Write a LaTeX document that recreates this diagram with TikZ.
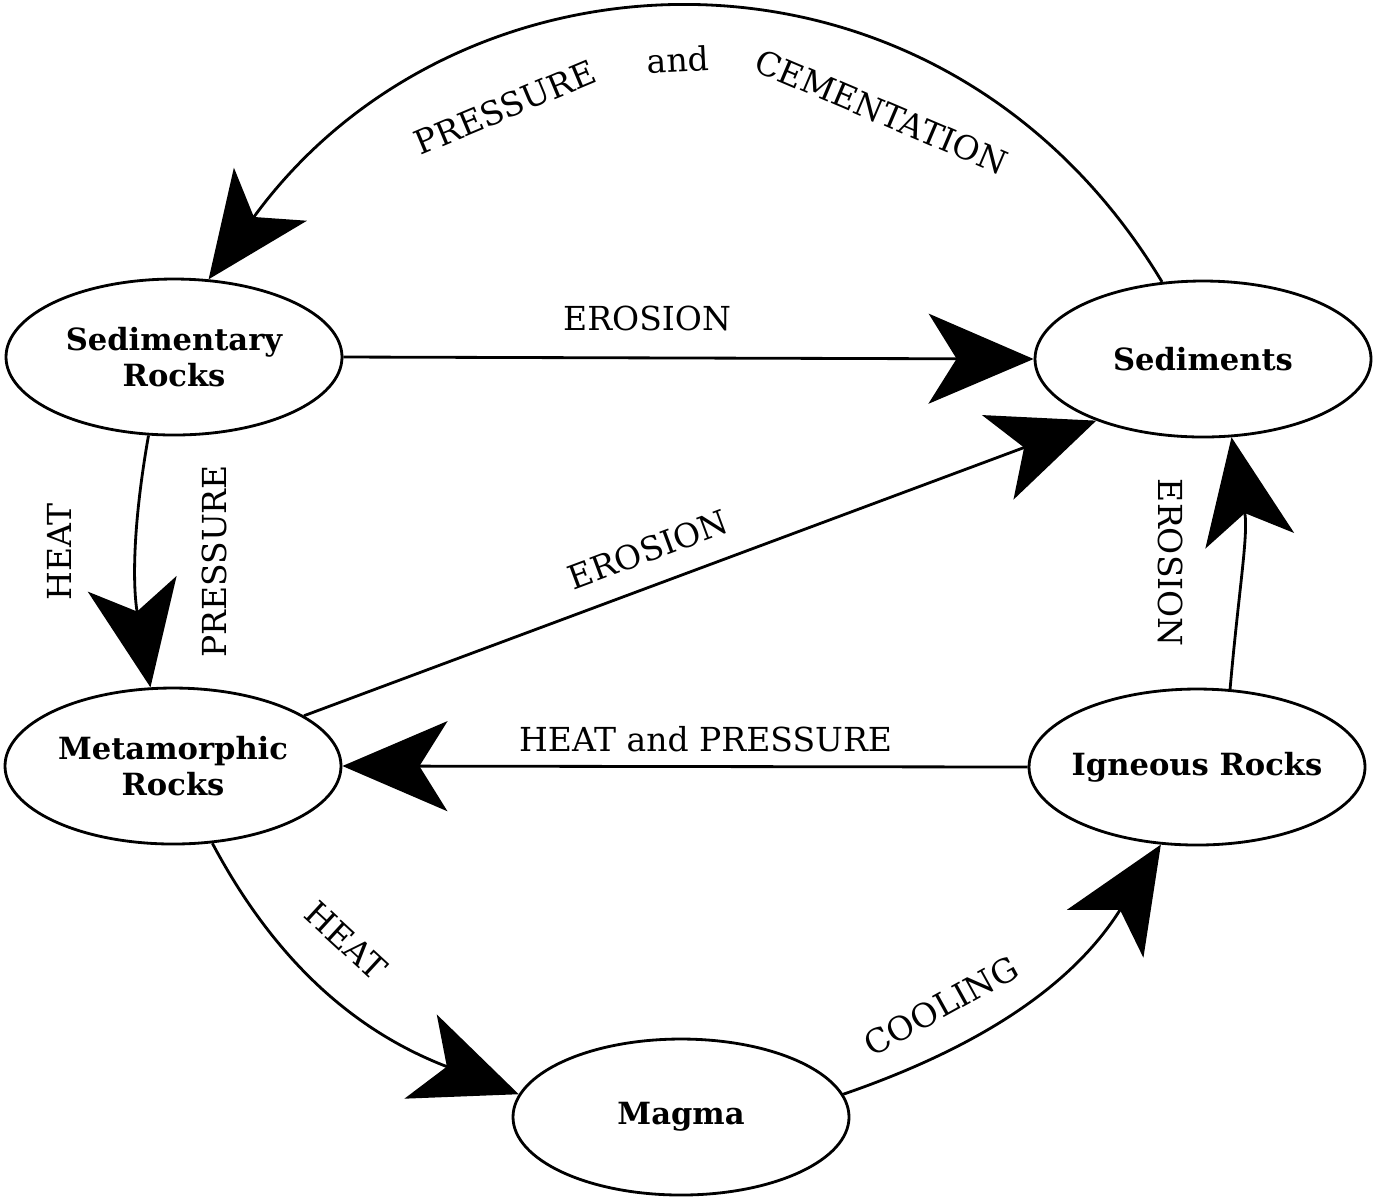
\documentclass[tikz,border=0pt]{standalone}
\usepackage{fontspec}
\setmainfont{DejaVu Serif}
\usetikzlibrary{arrows.meta,shapes.geometric}

\begin{document}
\begin{tikzpicture}
\tikzstyle{every node}+=[inner sep=0pt]
\tikzstyle{rock}=[draw,ellipse,inner sep=-3pt,line width=0.8pt,minimum width=3.36cm,minimum height=1.56cm,align=center,font=\fontsize{8.7}{10.2}\selectfont\bfseries]
\tikzstyle{flow}=[line width=0.8pt,-{Stealth[length=1.05cm,width=0.9cm,inset=0.28cm]}]
\tikzstyle{lbl}=[font=\fontsize{9.4}{11}\selectfont,inner sep=1pt]
\useasboundingbox (0,0) rectangle (13.75,-12);
\node [rock] (sr) at (1.74,-3.57) {Sedimentary\\Rocks};
\node [rock] (sed) at (12.03,-3.59) {Sediments};
\node [rock] (met) at (1.73,-7.66) {Metamorphic\\Rocks};
\node [rock] (ig) at (11.97,-7.67) {Igneous Rocks};
\node [rock] (mag) at (6.81,-11.17) {Magma};
\draw [flow] (sed.118) to[out=121,in=54,looseness=1.15]
  node [lbl,pos=0.3,sloped,below=4.6mm] {CEMENTATION}
  node [lbl,pos=0.52,sloped,below=2.9mm] {and}
  node [lbl,pos=0.7,sloped,below=3.7mm] {PRESSURE} (sr.66);
\draw [flow] (sr.east) -- node [lbl,pos=0.44,above=2.2mm] {EROSION} (sed.west);
\draw [flow] (sr.252) to[out=-100,in=100]
  node [lbl,pos=0.46,xshift=-7.7mm,rotate=90] {HEAT}
  node [lbl,pos=0.5,xshift=7.8mm,rotate=90] {PRESSURE} (met.106);
\draw [flow] (met.21) -- node [lbl,pos=0.45,sloped,above=1.8mm] {EROSION} (sed.210);
\draw [flow] (ig.west) -- node [lbl,pos=0.47,above=1mm] {HEAT and PRESSURE} (met.east);
\draw [flow] (ig.67) to[out=85,in=-80]
  node [lbl,pos=0.5,xshift=-7mm,rotate=-90] {EROSION} (sed.-70);
\draw [flow] (met.-63) to[out=-62,in=159]
  node [lbl,pos=0.41,sloped,above=3.3mm] {HEAT} (mag.172);
\draw [flow] (mag.8) to[out=19,in=238]
  node [lbl,pos=0.3,sloped,above=2.5mm] {COOLING} (ig.245);
\end{tikzpicture}
\end{document}
